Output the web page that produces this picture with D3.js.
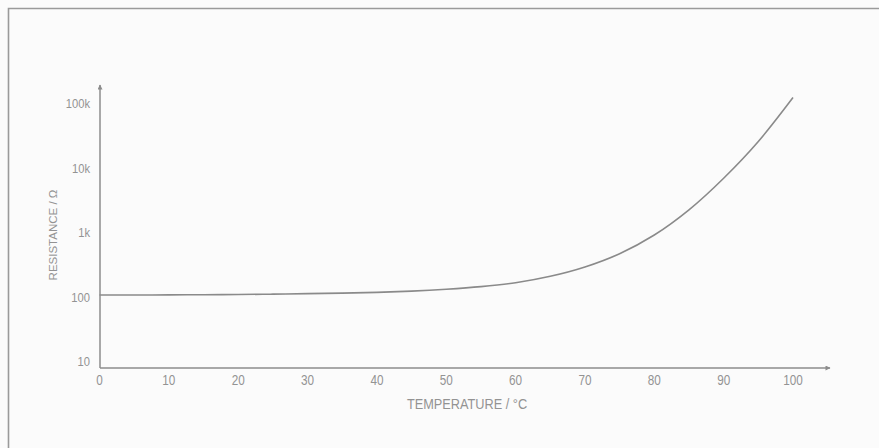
<!DOCTYPE html>
<html>
<head>
<meta charset="utf-8">
<script src="https://cdn.jsdelivr.net/npm/d3@7"></script>
<style>
  html, body { margin: 0; padding: 0; background: #fbfbfb; }
  svg { display: block; }
  .tick-label { font-family: "Liberation Sans", Arial, sans-serif; fill: #939393; }
</style>
</head>
<body>
<svg id="chart"></svg>
<script>
// curve, every 5 degrees
const temps       = [0, 5, 10, 15, 20, 25, 30, 35, 40, 45, 50, 55, 60, 65, 70, 75, 80, 85, 90, 95, 100];
const resistances = [100, 100, 100.5, 101, 102, 103, 105, 107, 110, 115, 123, 135, 155, 195, 272, 437, 851, 2090, 6460, 24000, 115000];
const xTicks      = [0, 10, 20, 30, 40, 50, 60, 70, 80, 90, 100];
const yTicks      = [10, 100, 1000, 10000, 100000];
const yTickLabels = ["10", "100", "1k", "10k", "100k"];

const W = 879, H = 448;
const ink = "#8c8c8c";

const svg = d3.select("#chart").attr("width", W).attr("height", H);

const axisX0 = 100, axisY0 = 368;

const scaleX = d3.scaleLinear().domain([0, 100]).range([99.5, 793]);
const scaleY = d3.scaleLog().domain([10, 100000]).range([359.5, 101.5]);

// frame (only top and left edges show)
svg.append("path")
  .attr("d", `M8.5,${H} V8.5 H${W}`)
  .attr("fill", "none")
  .attr("stroke", "#9a9a9a")
  .attr("stroke-width", 1.6);

// axes lines with arrows
svg.append("defs").append("marker")
  .attr("id", "arrow")
  .attr("viewBox", "0 0 10 10")
  .attr("refX", 9).attr("refY", 5)
  .attr("markerWidth", 7).attr("markerHeight", 5)
  .attr("markerUnits", "userSpaceOnUse")
  .attr("orient", "auto")
  .append("path")
  .attr("d", "M0,0 L10,5 L0,10 Z")
  .attr("fill", ink);

svg.append("line")
  .attr("x1", axisX0).attr("y1", axisY0)
  .attr("x2", axisX0).attr("y2", 85)
  .attr("stroke", ink).attr("stroke-width", 1.5)
  .attr("marker-end", "url(#arrow)");

svg.append("line")
  .attr("x1", axisX0).attr("y1", axisY0)
  .attr("x2", 830).attr("y2", axisY0)
  .attr("stroke", ink).attr("stroke-width", 1.5)
  .attr("marker-end", "url(#arrow)");

// tick labels (the original type is condensed, so squeeze it a bit)
svg.selectAll(".xl")
  .data(xTicks)
  .enter().append("text")
  .attr("class", "tick-label")
  .attr("transform", d => `translate(${scaleX(d)},385) scale(0.84,1)`)
  .attr("text-anchor", "middle")
  .attr("font-size", "14px")
  .text(d => d);

svg.selectAll(".yl")
  .data(yTicks)
  .enter().append("text")
  .attr("class", "tick-label")
  .attr("transform", d => `translate(90,${scaleY(d) + 6.5}) scale(0.86,1)`)
  .attr("text-anchor", "end")
  .attr("font-size", "13px")
  .text((d, i) => yTickLabels[i]);

// axis titles
svg.append("text")
  .attr("class", "tick-label")
  .attr("transform", "translate(467,409) scale(0.85,1)")
  .attr("text-anchor", "middle")
  .attr("font-size", "15px")
  .text("TEMPERATURE / °C");

svg.append("text")
  .attr("transform", "translate(57,235) rotate(-90)")
  .attr("text-anchor", "middle")
  .attr("font-family", "Liberation Sans, Arial, sans-serif")
  .attr("font-size", "11.5px")
  .attr("fill", "#939393")
  .text("RESISTANCE / Ω");

// the curve
const line = d3.line()
  .curve(d3.curveCatmullRom.alpha(0.5))
  .x((d, i) => scaleX(temps[i]))
  .y(d => scaleY(d));

svg.append("path")
  .datum(resistances)
  .attr("fill", "none")
  .attr("stroke", "#8a8a8a")
  .attr("stroke-width", 1.6)
  .attr("d", line);
</script>
</body>
</html>
